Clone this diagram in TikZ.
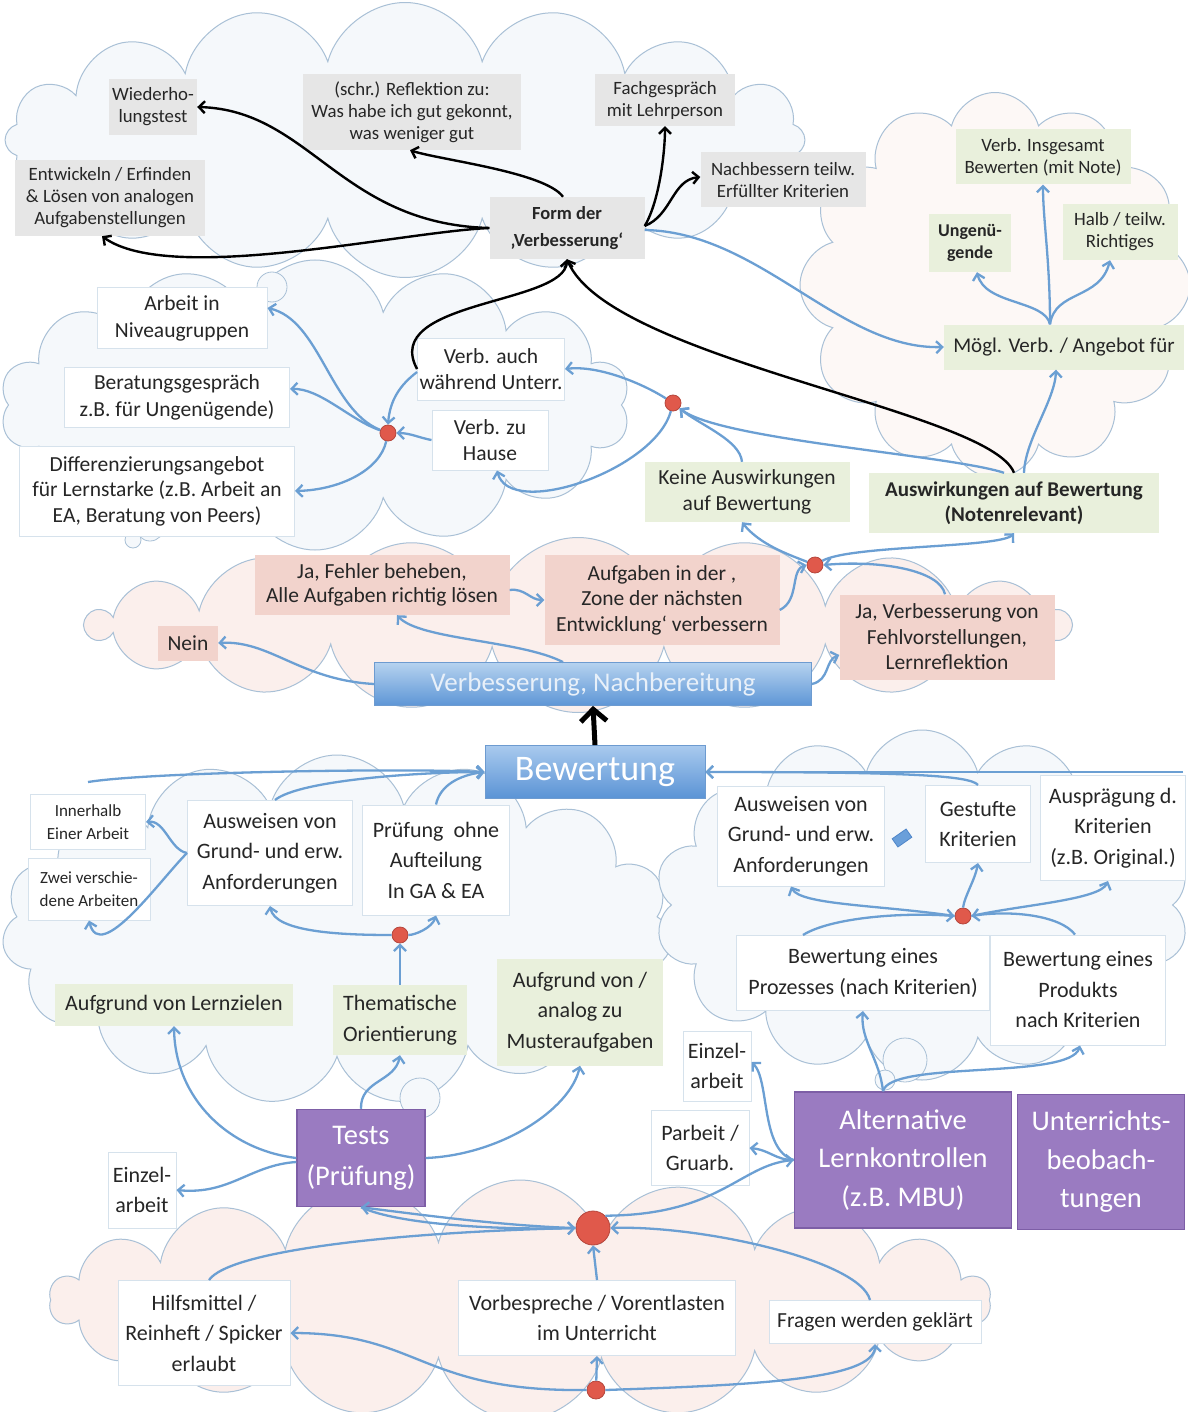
\documentclass[tikz,border=0pt]{standalone}
\usepackage{fontspec}
\setmainfont{Carlito}
\usetikzlibrary{shapes.symbols,arrows.meta}
\definecolor{ablue}{HTML}{6B9FD3}
\definecolor{cloudline}{HTML}{A9C0D6}
\definecolor{gbox}{HTML}{E6E6E6}
\definecolor{grbox}{HTML}{E9F0DC}
\definecolor{pbox}{HTML}{F2D3CC}
\definecolor{wline}{HTML}{D6E2EC}
\definecolor{purp}{HTML}{9A7BC1}
\definecolor{purpl}{HTML}{7D5EA6}
\definecolor{reddot}{HTML}{E0594B}
\definecolor{reddotl}{HTML}{B5463C}
\definecolor{txt}{HTML}{262626}
\definecolor{cfa}{HTML}{F5F8FB}
\definecolor{cfp}{HTML}{FBEFEC}
\definecolor{cfr}{HTML}{FDF8F6}
\definecolor{bartop}{HTML}{B5D2EF}
\definecolor{barbot}{HTML}{5E96D6}
\definecolor{barline}{HTML}{6D9BD0}
\definecolor{bartxt}{HTML}{E8F0F9}
\definecolor{bewtop}{HTML}{A9CAEE}
\definecolor{bewbot}{HTML}{5A93D5}
\definecolor{iconline}{HTML}{4F86C9}
\definecolor{iconfill}{HTML}{6A9FDA}
\tikzset{
  cloudy/.style={cloud, cloud puffs=#1, cloud ignores aspect, draw=cloudline, line width=1pt},
  box/.style={align=center, inner sep=2pt, text=txt},
  gb/.style={box, fill=gbox},
  grb/.style={box, fill=grbox},
  pkb/.style={box, fill=pbox},
  wb/.style={box, fill=white, draw=wline, line width=1pt},
  pub/.style={box, fill=purp, draw=purpl, line width=1.5pt, text=white},
  rdot/.style={circle, fill=reddot, draw=reddotl, line width=0.8pt, minimum size=16pt, inner sep=0pt},
  arr/.style={draw=ablue, line width=2.3pt, -{Straight Barb[length=6pt,width=12pt]}},
  blk/.style={draw=black, line width=2.4pt, -{Straight Barb[length=6pt,width=12pt]}},
  bub/.style={circle, draw=cloudline, line width=0.8pt, fill=cfa, inner sep=0pt},
  fa/.style={font=\fontsize{18.8}{22}\selectfont},
  fb/.style={font=\fontsize{21.5}{25.5}\selectfont},
  fc/.style={font=\fontsize{22}{30.5}\selectfont},
  fd/.style={font=\fontsize{17}{22.5}\selectfont},
  fe/.style={font=\fontsize{28.5}{38.5}\selectfont},
}
\begin{document}
\begin{tikzpicture}[x=1pt,y=-1pt]
\useasboundingbox (0,0) rectangle (1187,1412);
\fill[white] (0,0) rectangle (1187,1412);
% clouds
\node[cloudy=16, fill=cfa, minimum width=800, minimum height=275] (cTop) at (405,140) {};
\node[cloudy=12, fill=cfr, minimum width=390, minimum height=385] (cRight) at (995,285) {};
\node[cloudy=14, fill=cfa, minimum width=630, minimum height=290] (cMid) at (315,405) {};
\node[cloudy=18, fill=cfp, minimum width=980, minimum height=175] (cPink) at (578,625) {};
\node[cloudy=15, fill=cfa, minimum width=670, minimum height=350] (cLL) at (337,930) {};
\node[cloudy=14, fill=cfa, minimum width=535, minimum height=350] (cLR) at (922,905) {};
\node[cloudy=18, fill=cfp, minimum width=940, minimum height=240] (cBot) at (520,1300) {};
% bubbles
\node[bub, minimum size=30] (b1) at (272,287) {};
\node[bub, minimum size=18] (b2) at (255,300) {};
\node[bub, minimum size=28] (b3) at (150,527) {};
\node[bub, minimum size=16] (b4) at (133,540) {};
\node[bub, minimum size=44] (b5) at (905,1060) {};
\node[bub, minimum size=20] (b6) at (885,1080) {};
\node[bub, minimum size=40] (b7) at (420,1098) {};
% top grey boxes
\node[gb, fa, minimum width=88, minimum height=56] (wied) at (153,107) {Wiederho-\\lungstest};
\node[gb, fa, minimum width=218, minimum height=76] (refl) at (412,112) {(schr.) Reflektion zu:\\Was habe ich gut gekonnt,\\was weniger gut};
\node[gb, fa, minimum width=140, minimum height=52] (fach) at (665,100) {Fachgespräch\\mit Lehrperson};
\node[gb, fa, minimum width=165, minimum height=55] (nach) at (783,180) {Nachbessern teilw.\\Erfüllter Kriterien};
\node[gb, fa, minimum width=190, minimum height=76] (entw) at (110,198) {Entwickeln / Erfinden\\\& Lösen von analogen\\Aufgabenstellungen};
\node[gb, font=\bfseries\fontsize{18.5}{27}\selectfont, minimum width=155, minimum height=62] (form) at (567,228) {Form der\\‚Verbesserung‘};
% right cloud
\node[grb, fa, minimum width=175, minimum height=55] (insg) at (1043,157) {Verb. Insgesamt\\Bewerten (mit Note)};
\node[grb, font=\bfseries\fontsize{18}{22}\selectfont, minimum width=82, minimum height=58] (ungen) at (970,243) {Ungenü-\\gende};
\node[grb, fa, minimum width=115, minimum height=56] (halb) at (1120,232) {Halb / teilw.\\Richtiges};
\node[grb, font=\fontsize{21}{25}\selectfont, minimum width=240, minimum height=45] (moegl) at (1064,347) {Mögl. Verb. / Angebot für};
% middle left
\node[wb, font=\fontsize{21.5}{27}\selectfont, minimum width=170, minimum height=60] (arb) at (182,318) {Arbeit in\\Niveaugruppen};
\node[wb, font=\fontsize{21.5}{27}\selectfont, minimum width=225, minimum height=60] (ber) at (177,397) {Beratungsgespräch\\z.B. für Ungenügende)};
\node[wb, fb, minimum width=275, minimum height=90] (diff) at (157,491) {Differenzierungsangebot\\für Lernstarke (z.B. Arbeit an\\EA, Beratung von Peers)};
\node[wb, fb, minimum width=142, minimum height=62] (vauch) at (491,369) {Verb. auch\\während Unterr.};
\node[wb, fb, minimum width=116, minimum height=60] (vhaus) at (490,440) {Verb. zu\\Hause};
\node[rdot] (dotA) at (388,433) {};
\node[rdot] (dotB) at (673,403) {};
% green middle
\node[grb, fb, minimum width=205, minimum height=60] (keine) at (747,492) {Keine Auswirkungen\\auf Bewertung};
\node[grb, font=\bfseries\fontsize{21}{25.5}\selectfont, minimum width=290, minimum height=60] (ausw) at (1014,503) {Auswirkungen auf Bewertung\\(Notenrelevant)};
% pink
\node[pkb, font=\fontsize{21.5}{23.5}\selectfont, minimum width=255, minimum height=60] (jaf) at (382,585) {Ja, Fehler beheben,\\Alle Aufgaben richtig lösen};
\node[pkb, fb, minimum width=235, minimum height=90] (zone) at (662,600) {Aufgaben in der ,\\Zone der nächsten\\Entwicklung‘ verbessern};
\node[pkb, fb, minimum width=60, minimum height=35] (nein) at (188,643) {Nein};
\node[pkb, fb, minimum width=215, minimum height=85] (javer) at (947,637) {Ja, Verbesserung von\\Fehlvorstellungen,\\Lernreflektion};
\node[rdot] (dotC) at (815,565) {};
\node[box, top color=bartop, bottom color=barbot, draw=barline, line width=0.8pt, text=bartxt, font=\fontsize{27}{30}\selectfont, minimum width=437, minimum height=43] (bar) at (593,684) {Verbesserung, Nachbereitung};
\node[box, top color=bewtop, bottom color=bewbot, draw=barline, line width=0.8pt, text=white, font=\fontsize{36}{40}\selectfont, minimum width=220, minimum height=53] (bew) at (595,772) {Bewertung};
% lower left
\node[wb, fd, minimum width=115, minimum height=55] (inner) at (88,822) {Innerhalb\\Einer Arbeit};
\node[wb, fd, minimum width=122, minimum height=62] (zwei) at (89,889) {Zwei verschie-\\dene Arbeiten};
\node[wb, fc, minimum width=165, minimum height=105] (ausL) at (270,853) {Ausweisen von\\Grund- und erw.\\Anforderungen};
\node[wb, fc, minimum width=147, minimum height=110] (pruef) at (436,860) {Prüfung\ \ ohne\\Aufteilung\\In GA \& EA};
\node[rdot] (dotD) at (400,935) {};
\node[grb, fc, minimum width=238, minimum height=42] (lernz) at (174,1005) {Aufgrund von Lernzielen};
\node[grb, fc, minimum width=134, minimum height=70] (them) at (400,1020) {Thematische\\Orientierung};
\node[grb, fc, minimum width=166, minimum height=107] (muster) at (580,1012) {Aufgrund von /\\analog zu\\Musteraufgaben};
% lower right
\node[wb, fc, minimum width=167, minimum height=100] (ausR) at (801,836) {Ausweisen von\\Grund- und erw.\\Anforderungen};
\node[wb, fc, minimum width=105, minimum height=77] (gest) at (978,824) {Gestufte\\Kriterien};
\node[wb, fc, minimum width=145, minimum height=105] (auspr) at (1113,828) {Ausprägung d.\\Kriterien\\(z.B. Original.)};
\node[draw=iconline, fill=iconfill, line width=0.8pt, rotate=35, minimum width=17, minimum height=10, inner sep=0pt] (icon) at (902,838) {};
\node[rdot] (dotE) at (963,916) {};
\node[wb, font=\fontsize{22}{31.5}\selectfont, minimum width=253, minimum height=75] (proz) at (863,973) {Bewertung eines\\Prozesses (nach Kriterien)};
\node[wb, font=\fontsize{22}{30.5}\selectfont, minimum width=175, minimum height=110] (prod) at (1078,990) {Bewertung eines\\Produkts\\nach Kriterien};
% bottom
\node[wb, fc, minimum width=68, minimum height=70] (einzR) at (717,1066) {Einzel-\\arbeit};
\node[wb, fc, minimum width=98, minimum height=75] (parb) at (700,1148) {Parbeit /\\Gruarb.};
\node[pub, fe, minimum width=217, minimum height=136] (alt) at (903,1160) {Alternative\\Lernkontrollen\\(z.B. MBU)};
\node[pub, fe, minimum width=167, minimum height=135] (unt) at (1101,1162) {Unterrichts-\\beobach-\\tungen};
\node[pub, font=\fontsize{28.5}{41}\selectfont, minimum width=128, minimum height=97] (tests) at (361,1158) {Tests\\(Prüfung)};
\node[wb, fc, minimum width=68, minimum height=76] (einzL) at (142,1190) {Einzel-\\arbeit};
\node[rdot, minimum size=34pt] (dotF) at (593,1228) {};
\node[wb, fc, minimum width=172, minimum height=105] (hilf) at (204,1333) {Hilfsmittel /\\Reinheft / Spicker\\erlaubt};
\node[wb, fc, minimum width=277, minimum height=75] (vorb) at (597,1318) {Vorbespreche / Vorentlasten\\im Unterricht};
\node[wb, font=\fontsize{21.5}{25}\selectfont, minimum width=212, minimum height=43] (frag) at (875,1322) {Fragen werden geklärt};
\node[rdot, minimum size=18pt] (dotG) at (596,1390) {};
\coordinate (rstart) at (1183,772);

% ---- black connectors top
\draw[blk] (form.west) .. controls (340,224) and (310,110) .. (wied.east);
\draw[blk] (form.west) .. controls (400,232) and (170,285) .. ([xshift=-8]entw.south);
\draw[blk] ([xshift=-4]form.north) .. controls (545,172) and (440,160) .. ([xshift=-2]refl.south);
\draw[blk] ([yshift=2]form.east) .. controls (660,200) and (665,150) .. (fach.south);
\draw[blk] ([yshift=2]form.east) .. controls (672,215) and (672,180) .. ([yshift=3]nach.west);
\draw[blk] (vauch.west) .. controls (380,300) and (565,305) .. (form.south);
\draw[blk] (ausw.north) .. controls (990,410) and (610,360) .. (form.south);
\draw[arr] ([yshift=-2]form.east) .. controls (760,232) and (840,350) .. (moegl.west);
% right cloud
\draw[arr] ([xshift=-14]moegl.north) .. controls (1050,260) and (1043,220) .. (insg.south);
\draw[arr] ([xshift=-14]moegl.north) .. controls (1045,300) and (985,305) .. ([xshift=7]ungen.south);
\draw[arr] ([xshift=-14]moegl.north) .. controls (1055,290) and (1100,300) .. ([xshift=-10]halb.south);
\draw[arr] ([xshift=10]ausw.north) .. controls (1025,440) and (1055,400) .. ([xshift=-8]moegl.south);
% middle left
\draw[arr] (dotA) .. controls (330,410) and (320,320) .. ([yshift=10]arb.east);
\draw[arr] (dotA) .. controls (350,420) and (320,388) .. ([yshift=8]ber.east);
\draw[arr] (dotA) .. controls (380,470) and (340,490) .. (diff.east);
\draw[arr] ([yshift=-3]vauch.west) .. controls (400,385) and (390,400) .. (dotA.north);
\draw[arr] (vhaus.west) .. controls (420,438) and (410,433) .. (dotA.east);
\draw[arr] (dotB) .. controls (645,385) and (600,365) .. (vauch.east);
\draw[arr] (dotB) .. controls (655,470) and (510,520) .. ([xshift=7]vhaus.south);
\draw[arr] ([xshift=-10]ausw.north) .. controls (950,455) and (720,440) .. (dotB);
\draw[arr] ([xshift=-5]keine.north) .. controls (740,440) and (700,425) .. (dotB);
% pink cloud
\draw[arr] (dotC) .. controls (790,555) and (760,545) .. ([xshift=-5]keine.south);
\draw[arr] (dotC) .. controls (850,545) and (1000,548) .. (ausw.south);
\draw[arr] ([yshift=-10]zone.east) .. controls (800,600) and (790,570) .. (dotC.west);
\draw[arr] ([xshift=-2]javer.north) .. controls (940,570) and (880,560) .. (dotC.east);
\draw[arr] (bar.west) .. controls (300,680) and (270,640) .. (nein.east);
\draw[arr] ([xshift=-30]bar.north) .. controls (520,640) and (420,640) .. ([xshift=15]jaf.south);
\draw[arr] ([yshift=-5]jaf.east) .. controls (525,588) and (530,600) .. (zone.west);
\draw[arr] (bar.east) .. controls (830,680) and (825,660) .. ([yshift=-18]javer.west);
\draw[draw=black, line width=5pt, -{Straight Barb[length=12pt,width=26pt]}] (bew.north) -- (bar.south);
% lower left
\draw[arr] ([yshift=12]inner.north) .. controls (150,772) and (400,768) .. (bew.west);
\draw[arr] ([xshift=5]ausL.north) .. controls (300,780) and (420,772) .. (bew.west);
\draw[arr] (pruef.north) .. controls (440,785) and (460,775) .. (bew.west);
\draw[arr] (ausL.west) .. controls (170,850) and (165,820) .. (inner.east);
\draw[arr] (ausL.west) .. controls (160,880) and (100,965) .. (zwei.south);
\draw[arr] (dotD) .. controls (340,935) and (275,932) .. (ausL.south);
\draw[arr] (dotD) .. controls (415,935) and (432,928) .. (pruef.south);
\draw[arr] (them.north) -- (dotD);
\draw[arr] (tests.west) .. controls (230,1150) and (175,1100) .. (lernz.south);
\draw[arr] ([yshift=-4]tests.west) .. controls (250,1165) and (230,1195) .. (einzL.east);
\draw[arr] (tests.north) .. controls (360,1080) and (395,1082) .. (them.south);
\draw[arr] (tests.east) .. controls (500,1155) and (570,1110) .. (muster.south);
\draw[arr] (dotF.west) .. controls (500,1226) and (400,1212) .. (tests.south);
\draw[arr] (tests.south) .. controls (400,1225) and (500,1230) .. (dotF.west);
\draw[arr] ([xshift=5]hilf.north) .. controls (230,1250) and (400,1232) .. (dotF.west);
\draw[arr] (vorb.north) -- (dotF.south);
\draw[arr] ([xshift=-5]frag.north) .. controls (860,1260) and (700,1225) .. (dotF.east);
\draw[arr] (dotF.north east) .. controls (720,1215) and (740,1165) .. (alt.west);
\draw[arr] (alt.west) .. controls (760,1150) and (770,1080) .. ([yshift=4]einzR.east);
\draw[arr] (alt.west) .. controls (775,1160) and (770,1150) .. (parb.east);
\draw[arr] ([xshift=-20]alt.north) .. controls (880,1060) and (860,1040) .. (proz.south);
\draw[arr] ([xshift=-20]alt.north) .. controls (890,1060) and (1070,1080) .. ([xshift=2]prod.south);
\draw[arr] (dotG) -- (vorb.south);
\draw[arr] (dotG.west) .. controls (420,1392) and (420,1333) .. (hilf.east);
\draw[arr] (dotG.east) .. controls (750,1385) and (875,1380) .. (frag.south);
% lower right
\draw[arr] ([xshift=-60]proz.north) .. controls (830,918) and (900,912) .. (dotE.west);
\draw[arr] ([xshift=-3]prod.north) .. controls (1060,915) and (1010,910) .. (dotE.east);
\draw[arr] (dotE.west) .. controls (880,905) and (800,905) .. ([xshift=-10]ausR.south);
\draw[arr] (dotE.north) .. controls (965,895) and (975,880) .. (gest.south);
\draw[arr] (dotE.east) .. controls (1020,905) and (1100,900) .. ([xshift=-5]auspr.south);
\draw[arr] (rstart) -- (bew.east);
\draw[arr] (gest.north) .. controls (970,775) and (900,772) .. (bew.east);
\end{tikzpicture}
\end{document}
